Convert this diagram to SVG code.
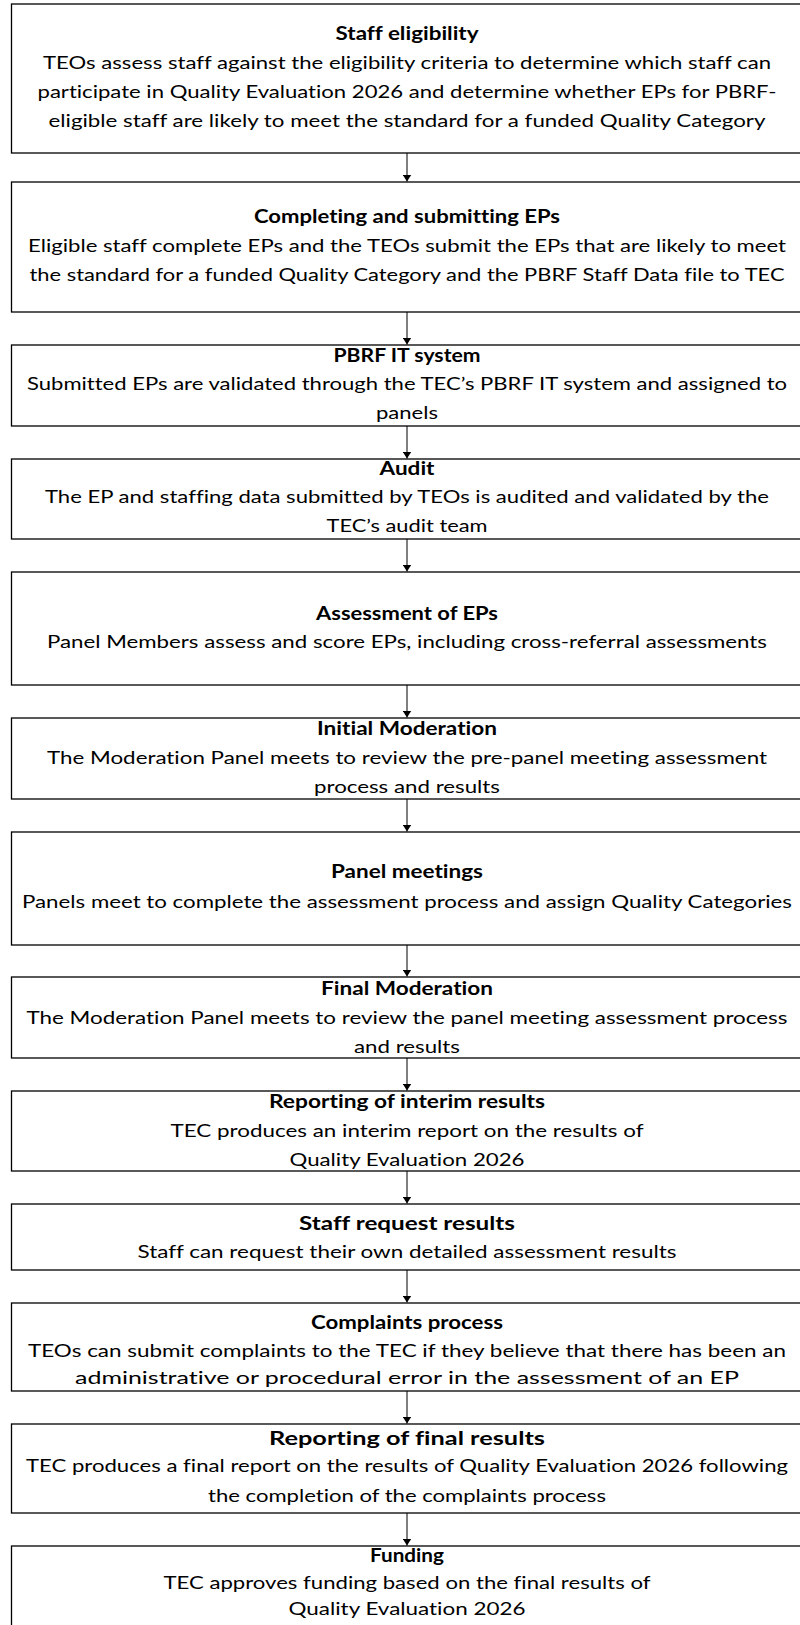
<svg xmlns="http://www.w3.org/2000/svg" width="800" height="1625" viewBox="0 0 800 1625">
<style>
rect.box{fill:#fff;stroke:#000;stroke-width:1.3}
text{font-family:Lato,"Open Sans","Liberation Sans",sans-serif;font-size:18px;fill:#000;text-anchor:middle;font-variant-ligatures:none}
text.t{font-weight:bold}
.c line{stroke:#000;stroke-width:1}
</style>
<defs>
<marker id="ah" viewBox="0 0 7 9" refX="7" refY="4.5" markerWidth="7" markerHeight="9" markerUnits="userSpaceOnUse" orient="auto">
<path d="M0,0 L7,4.5 L0,9 z" fill="#000"/>
</marker>
</defs>
<rect width="800" height="1625" fill="#fff"/>
<g class="c" id="connectors">
<line x1="407" y1="153" x2="407" y2="181.5" marker-end="url(#ah)"/>
<line x1="407" y1="312" x2="407" y2="344.5" marker-end="url(#ah)"/>
<line x1="407" y1="426" x2="407" y2="458.5" marker-end="url(#ah)"/>
<line x1="407" y1="539" x2="407" y2="571.5" marker-end="url(#ah)"/>
<line x1="407" y1="685" x2="407" y2="717.5" marker-end="url(#ah)"/>
<line x1="407" y1="799" x2="407" y2="831.5" marker-end="url(#ah)"/>
<line x1="407" y1="945" x2="407" y2="976.5" marker-end="url(#ah)"/>
<line x1="407" y1="1058" x2="407" y2="1090.5" marker-end="url(#ah)"/>
<line x1="407" y1="1171" x2="407" y2="1203.5" marker-end="url(#ah)"/>
<line x1="407" y1="1270" x2="407" y2="1302.5" marker-end="url(#ah)"/>
<line x1="407" y1="1391" x2="407" y2="1423.5" marker-end="url(#ah)"/>
<line x1="407" y1="1513" x2="407" y2="1545.5" marker-end="url(#ah)"/>
</g>
<g id="n1"><rect class="box" x="11.5" y="4" width="791" height="149"/>
<text class="t" x="407" y="40" textLength="143" lengthAdjust="spacingAndGlyphs">Staff eligibility</text>
<text x="407" y="69" textLength="728" lengthAdjust="spacingAndGlyphs">TEOs assess staff against the eligibility criteria to determine which staff can</text>
<text x="407" y="98" textLength="739" lengthAdjust="spacingAndGlyphs">participate in Quality Evaluation 2026 and determine whether EPs for PBRF-</text>
<text x="407" y="127" textLength="717" lengthAdjust="spacingAndGlyphs">eligible staff are likely to meet the standard for a funded Quality Category</text></g>
<g id="n2"><rect class="box" x="11.5" y="182" width="791" height="130"/>
<text class="t" x="407" y="223" textLength="306" lengthAdjust="spacingAndGlyphs">Completing and submitting EPs</text>
<text x="407" y="252" textLength="758" lengthAdjust="spacingAndGlyphs">Eligible staff complete EPs and the TEOs submit the EPs that are likely to meet</text>
<text x="407" y="281" textLength="755" lengthAdjust="spacingAndGlyphs">the standard for a funded Quality Category and the PBRF Staff Data file to TEC</text></g>
<g id="n3"><rect class="box" x="11.5" y="345" width="791" height="81"/>
<text class="t" x="407" y="362" textLength="147" lengthAdjust="spacingAndGlyphs">PBRF IT system</text>
<text x="407" y="390" textLength="760" lengthAdjust="spacingAndGlyphs">Submitted EPs are validated through the TEC’s PBRF IT system and assigned to</text>
<text x="407" y="419" textLength="62" lengthAdjust="spacingAndGlyphs">panels</text></g>
<g id="n4"><rect class="box" x="11.5" y="459" width="791" height="80"/>
<text class="t" x="407" y="475" textLength="55" lengthAdjust="spacingAndGlyphs">Audit</text>
<text x="407" y="503" textLength="724" lengthAdjust="spacingAndGlyphs">The EP and staffing data submitted by TEOs is audited and validated by the</text>
<text x="407" y="532" textLength="161" lengthAdjust="spacingAndGlyphs">TEC’s audit team</text></g>
<g id="n5"><rect class="box" x="11.5" y="572" width="791" height="113"/>
<text class="t" x="407" y="620" textLength="182" lengthAdjust="spacingAndGlyphs">Assessment of EPs</text>
<text x="407" y="648" textLength="720" lengthAdjust="spacingAndGlyphs">Panel Members assess and score EPs, including cross-referral assessments</text></g>
<g id="n6"><rect class="box" x="11.5" y="718" width="791" height="81"/>
<text class="t" x="407" y="735" textLength="180" lengthAdjust="spacingAndGlyphs">Initial Moderation</text>
<text x="407" y="764" textLength="720" lengthAdjust="spacingAndGlyphs">The Moderation Panel meets to review the pre-panel meeting assessment</text>
<text x="407" y="793" textLength="186" lengthAdjust="spacingAndGlyphs">process and results</text></g>
<g id="n7"><rect class="box" x="11.5" y="832" width="791" height="113"/>
<text class="t" x="407" y="878" textLength="152" lengthAdjust="spacingAndGlyphs">Panel meetings</text>
<text x="407" y="908" textLength="770" lengthAdjust="spacingAndGlyphs">Panels meet to complete the assessment process and assign Quality Categories</text></g>
<g id="n8"><rect class="box" x="11.5" y="977" width="791" height="81"/>
<text class="t" x="407" y="995" textLength="172" lengthAdjust="spacingAndGlyphs">Final Moderation</text>
<text x="407" y="1024" textLength="761" lengthAdjust="spacingAndGlyphs">The Moderation Panel meets to review the panel meeting assessment process</text>
<text x="407" y="1053" textLength="106" lengthAdjust="spacingAndGlyphs">and results</text></g>
<g id="n9"><rect class="box" x="11.5" y="1091" width="791" height="80"/>
<text class="t" x="407" y="1108" textLength="276" lengthAdjust="spacingAndGlyphs">Reporting of interim results</text>
<text x="407" y="1137" textLength="473" lengthAdjust="spacingAndGlyphs">TEC produces an interim report on the results of</text>
<text x="407" y="1166" textLength="235" lengthAdjust="spacingAndGlyphs">Quality Evaluation 2026</text></g>
<g id="n10"><rect class="box" x="11.5" y="1204" width="791" height="66"/>
<text class="t" x="407" y="1230" textLength="216" lengthAdjust="spacingAndGlyphs">Staff request results</text>
<text x="407" y="1258" textLength="539" lengthAdjust="spacingAndGlyphs">Staff can request their own detailed assessment results</text></g>
<g id="n11"><rect class="box" x="11.5" y="1303" width="791" height="88"/>
<text class="t" x="407" y="1329" textLength="192" lengthAdjust="spacingAndGlyphs">Complaints process</text>
<text x="407" y="1357" textLength="758" lengthAdjust="spacingAndGlyphs">TEOs can submit complaints to the TEC if they believe that there has been an</text>
<text x="407" y="1384" textLength="664" lengthAdjust="spacingAndGlyphs">administrative or procedural error in the assessment of an EP</text></g>
<g id="n12"><rect class="box" x="11.5" y="1424" width="791" height="89"/>
<text class="t" x="407" y="1445" textLength="276" lengthAdjust="spacingAndGlyphs">Reporting of final results</text>
<text x="407" y="1472" textLength="762" lengthAdjust="spacingAndGlyphs">TEC produces a final report on the results of Quality Evaluation 2026 following</text>
<text x="407" y="1502" textLength="398" lengthAdjust="spacingAndGlyphs">the completion of the complaints process</text></g>
<g id="n13"><rect class="box" x="11.5" y="1546" width="791" height="84"/>
<text class="t" x="407" y="1562" textLength="74" lengthAdjust="spacingAndGlyphs">Funding</text>
<text x="407" y="1589" textLength="487" lengthAdjust="spacingAndGlyphs">TEC approves funding based on the final results of</text>
<text x="407" y="1615" textLength="237" lengthAdjust="spacingAndGlyphs">Quality Evaluation 2026</text></g>
</svg>
